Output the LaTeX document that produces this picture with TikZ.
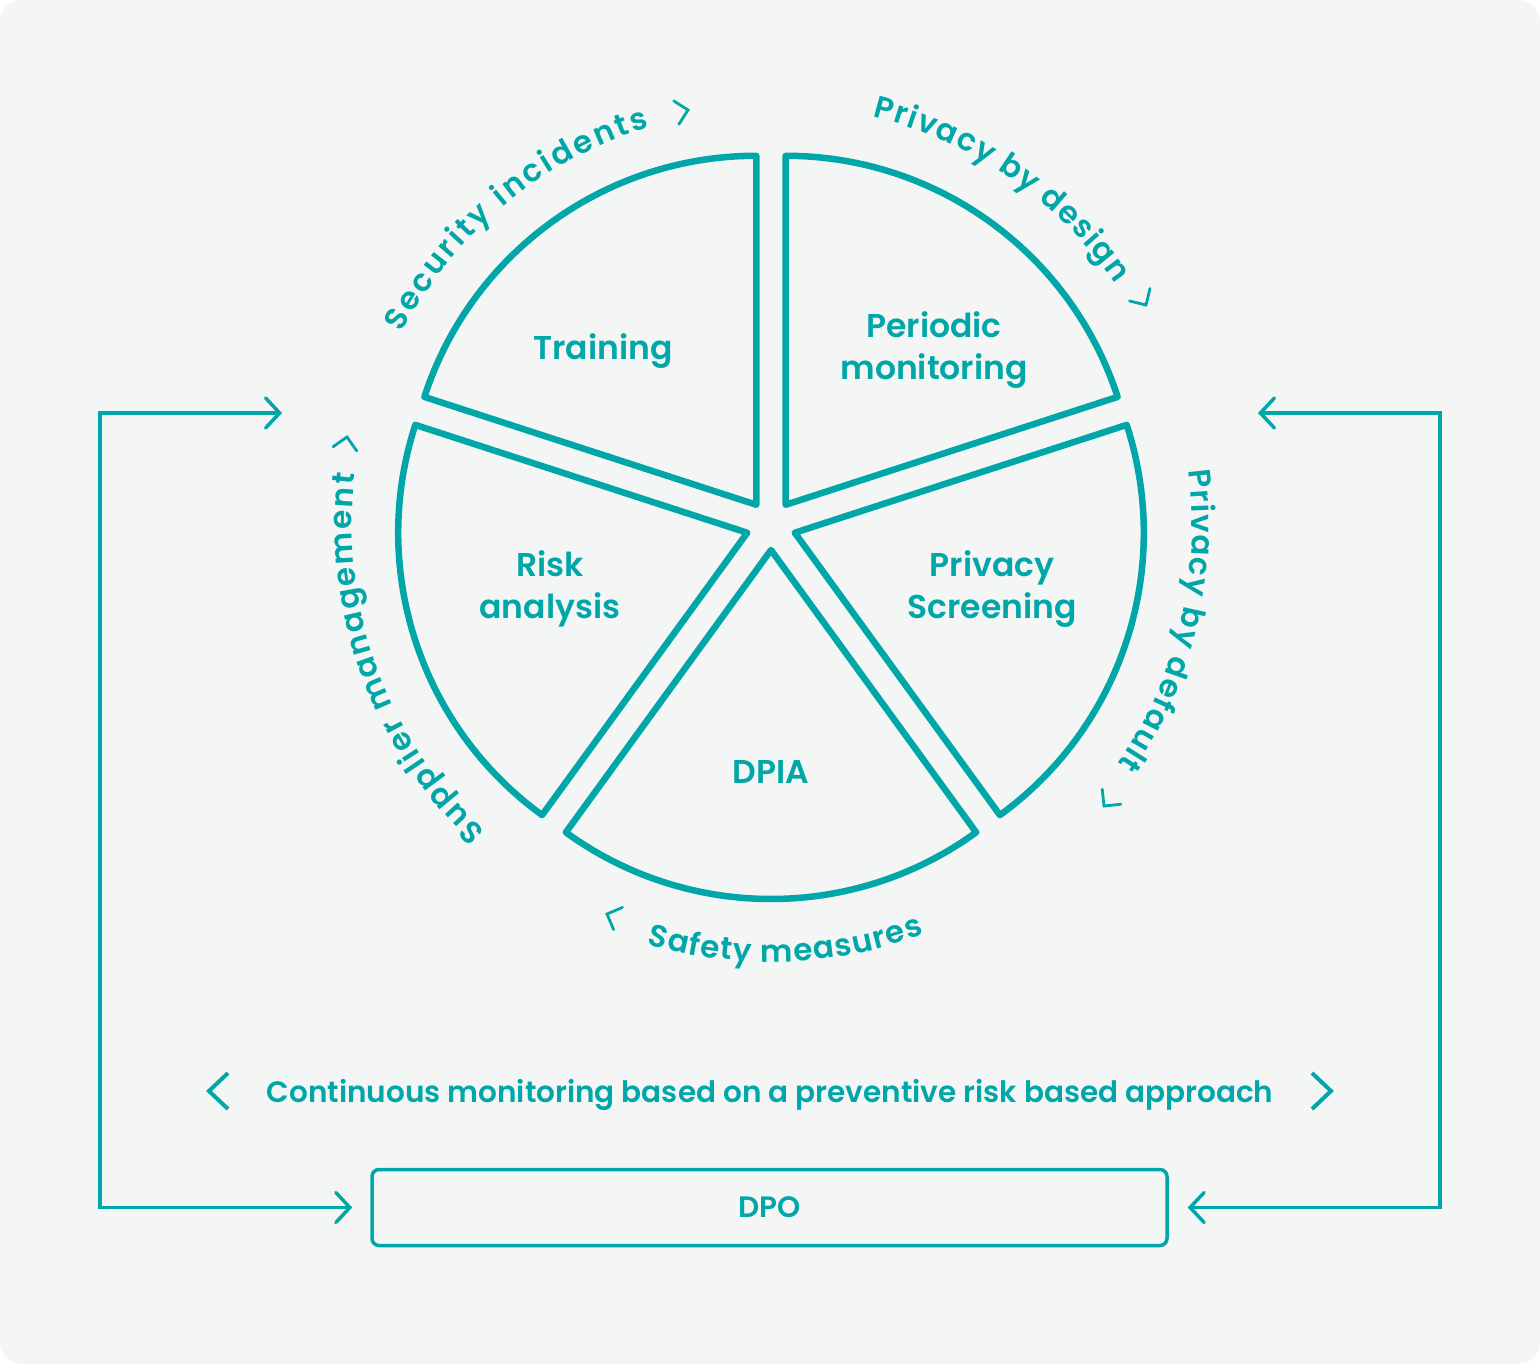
\documentclass[tikz,border=0pt]{standalone}
\usepackage{fontspec}
\IfFontExistsTF{Poppins SemiBold}{\setmainfont{Poppins SemiBold}}{\IfFontExistsTF{Poppins Medium}{\setmainfont{Poppins Medium}}{\setmainfont{Fira Sans}}}
\usetikzlibrary{decorations.text,arrows.meta,calc}
\definecolor{tealc}{RGB}{0,166,168}
\definecolor{bgc}{RGB}{244,246,245}
\newcommand\arcfont{\fontsize{31}{31}\selectfont}
\newcommand\myarctext[4]{%
  \path[decorate, decoration={text along path, text={|\arcfont|#1}, text color=tealc, text align=fit to path}]
    ($(C)+(#2:#4)$) arc[start angle=#2, end angle=#3, radius=#4];}
\newcommand\smallchev[3]{\draw[chev,shift={(#1,-#2)},rotate=#3] (-12,12) -- (0,0) -- (-12,-12);}
\begin{document}
\begin{tikzpicture}[x=1pt,y=1pt,
  slice/.style={draw=tealc, line width=6.5pt, line join=round},
  lbl/.style={text=tealc, font=\fontsize{33}{42}\selectfont, align=center},
  conn/.style={draw=tealc, line width=3.5pt, line join=miter,
    {Straight Barb[length=14pt,width=30pt,line cap=round]}-{Straight Barb[length=14pt,width=30pt,line cap=round]}},
  chev/.style={draw=tealc, line width=2.8pt, line cap=round, line join=miter},
  bigchev/.style={draw=tealc, line width=4pt, line cap=butt, line join=miter}]
\useasboundingbox (0,0) rectangle (1540,-1364);
\fill[white] (0,0) rectangle (1540,-1364);
\fill[bgc, rounded corners=22pt] (0,0) rectangle (1540,-1364);
\coordinate (C) at (771,-525);
% pie slices
\foreach \a [evaluate=\a as \b using \a+36, evaluate=\a as \e using \a+72] in {18,90,162,234,306}
  \draw[slice] ($(C)+(\b:25)$) -- ++(\a:349) arc[start angle=\a, end angle=\e, radius=349] -- cycle;
% slice labels
\node[lbl] (training) at (603,-351) {Training};
\node[lbl] (periodic) at (934,-350) {Periodic\\monitoring};
\node[lbl] (risk) at (550,-589) {Risk\\analysis};
\node[lbl] (screening) at (992,-589) {Privacy\\Screening};
\node[lbl] (dpia) at (771,-772) {DPIA};
% curved labels
\myarctext{Security incidents}{152.5}{107}{416}
\myarctext{Privacy by design}{76}{35}{421}
\myarctext{Privacy by default}{7.5}{-34.5}{421}
\myarctext{Supplier management}{227}{173}{419}
\myarctext{Safety measures}{-106.5}{-69.5}{437}
% small chevrons
\smallchev{688}{110}{12.5}
\smallchev{1146}{305}{-58.6}
\smallchev{1104}{806}{-129}
\smallchev{607}{914}{158}
\smallchev{347}{437}{80}
% bottom text
\node[text=tealc, font=\fontsize{29.5}{36}\selectfont] (cont) at (770,-1095) {Continuous monitoring based on a preventive risk based approach};
\draw[bigchev] (228,-1073) -- (209,-1091) -- (228,-1109);
\draw[bigchev] (1312,-1073) -- (1331,-1091) -- (1312,-1109);
% DPO
\node[draw=tealc, line width=3.5pt, rounded corners=7pt, minimum width=795pt, minimum height=76pt,
  text=tealc, font=\fontsize{29.5}{36}\selectfont] (dpo) at (769.5,-1207.5) {\raisebox{-1pt}{DPO}};
\coordinate (inL) at (282,-413);
\coordinate (inR) at (1258,-413);
\draw[conn, shorten >=18pt] (inL) -- ++(-182,0) |- (dpo.west);
\draw[conn, shorten >=19pt] (inR) -- ++(182,0) |- (dpo.east);
\end{tikzpicture}
\end{document}
